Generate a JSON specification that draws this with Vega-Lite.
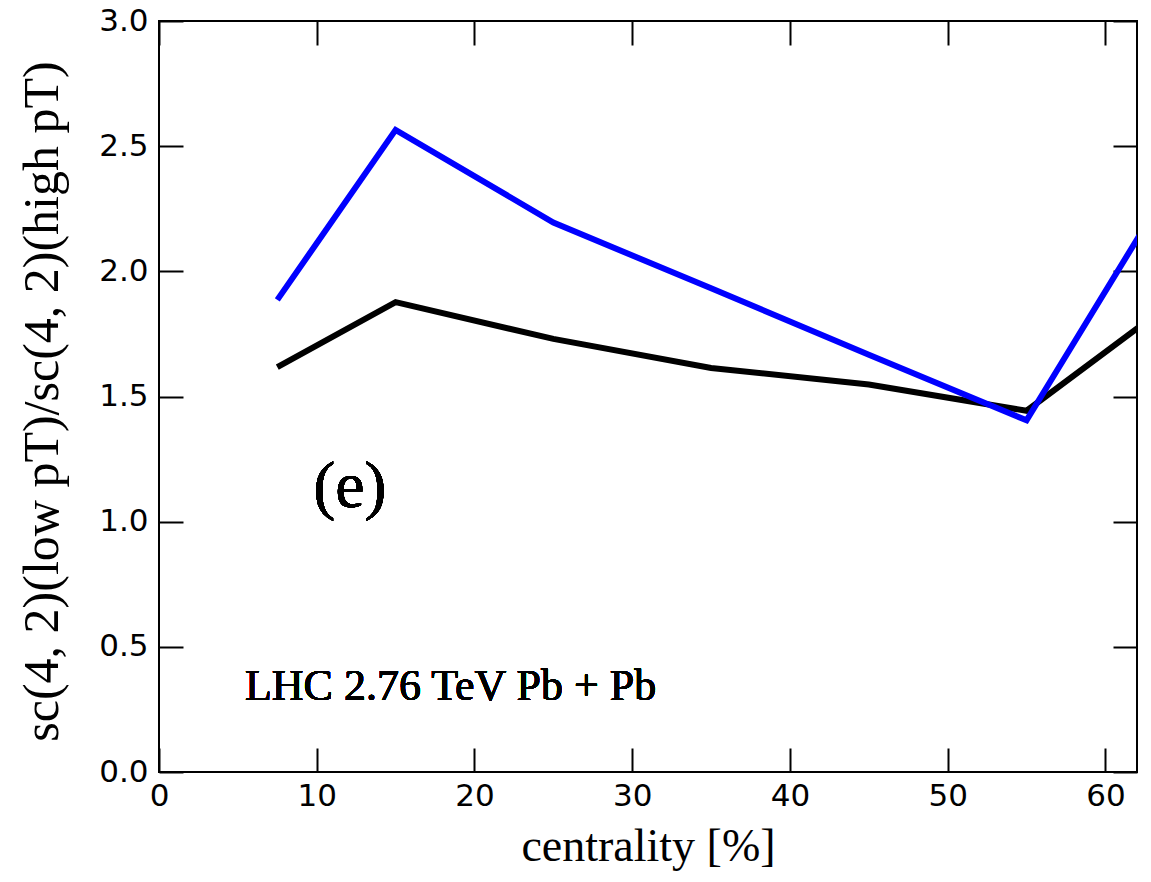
{
  "$schema": "https://vega.github.io/schema/vega-lite/v6.json",
  "width": 978,
  "height": 751,
  "autosize": {"type": "none"},
  "padding": {"left": 159, "top": 21, "right": 14, "bottom": 110},
  "background": "white",
  "config": {
    "view": {"stroke": "black", "strokeWidth": 2},
    "axis": {
      "grid": false,
      "domain": false,
      "tickColor": "black",
      "tickWidth": 2,
      "labelFont": "DejaVu Sans",
      "labelFontSize": 31,
      "labelColor": "black",
      "titleFont": "Liberation Serif",
      "titleFontSize": 46,
      "titleFontWeight": "normal",
      "titleColor": "black"
    }
  },
  "data": {
    "values": [
      {"centrality": 7.5, "ratio": 1.617, "series": "black"},
      {"centrality": 15, "ratio": 1.877, "series": "black"},
      {"centrality": 25, "ratio": 1.73, "series": "black"},
      {"centrality": 35, "ratio": 1.614, "series": "black"},
      {"centrality": 45, "ratio": 1.548, "series": "black"},
      {"centrality": 55, "ratio": 1.443, "series": "black"},
      {"centrality": 65, "ratio": 1.913, "series": "black"},
      {"centrality": 7.5, "ratio": 1.886, "series": "blue"},
      {"centrality": 15, "ratio": 2.565, "series": "blue"},
      {"centrality": 25, "ratio": 2.195, "series": "blue"},
      {"centrality": 35, "ratio": 1.932, "series": "blue"},
      {"centrality": 45, "ratio": 1.667, "series": "blue"},
      {"centrality": 55, "ratio": 1.405, "series": "blue"},
      {"centrality": 65, "ratio": 2.437, "series": "blue"}
    ]
  },
  "resolve": {"axis": {"x": "independent", "y": "independent"}},
  "layer": [
    {
      "mark": {"type": "line", "strokeWidth": 6, "clip": true},
      "encoding": {
        "x": {
          "field": "centrality", "type": "quantitative",
          "scale": {"domain": [0, 62], "nice": false, "zero": false},
          "axis": {
            "orient": "bottom",
            "title": "centrality [%]",
            "values": [0, 10, 20, 30, 40, 50, 60],
            "format": "d",
            "tickSize": -24,
            "labelPadding": 33,
            "labelFlush": false,
            "labelOverlap": false,
            "titleX": 489,
            "titleY": 88,
            "titleAlign": "center",
            "titleBaseline": "alphabetic"
          }
        },
        "y": {
          "field": "ratio", "type": "quantitative",
          "scale": {"domain": [0, 3], "nice": false},
          "axis": {
            "orient": "left",
            "title": "sc(4, 2)(low pT)/sc(4, 2)(high pT)",
            "titleFontSize": 50,
            "values": [0, 0.5, 1, 1.5, 2, 2.5, 3],
            "format": ".1f",
            "tickSize": -24,
            "labelPadding": 35,
            "labelFlush": false,
            "labelOverlap": false,
            "titleAngle": -90,
            "titleX": -117,
            "titleY": 380,
            "titleAlign": "center",
            "titleBaseline": "middle"
          }
        },
        "color": {
          "field": "series", "type": "nominal",
          "scale": {"domain": ["black", "blue"], "range": ["#000000", "#0000ff"]},
          "legend": null
        }
      }
    },
    {
      "mark": {"type": "line", "strokeWidth": 6, "strokeOpacity": 0, "clip": true},
      "encoding": {
        "x": {
          "field": "centrality", "type": "quantitative",
          "axis": {"orient": "top", "title": null, "labels": false, "values": [0, 10, 20, 30, 40, 50, 60], "tickSize": -24}
        },
        "y": {
          "field": "ratio", "type": "quantitative",
          "axis": {"orient": "right", "title": null, "labels": false, "values": [0, 0.5, 1, 1.5, 2, 2.5, 3], "tickSize": -24}
        },
        "detail": {"field": "series", "type": "nominal"}
      }
    },
    {
      "mark": {"type": "text", "text": "(e)", "font": "Liberation Serif", "fontSize": 66, "align": "center", "baseline": "middle", "color": "black"},
      "encoding": {
        "x": {"datum": 12.1, "type": "quantitative", "axis": null},
        "y": {"datum": 1.14, "type": "quantitative", "axis": null}
      }
    },
    {
      "mark": {"type": "text", "text": "LHC 2.76 TeV Pb + Pb", "font": "Liberation Serif", "fontSize": 44, "align": "left", "baseline": "alphabetic", "color": "black"},
      "encoding": {
        "x": {"datum": 5.45, "type": "quantitative", "axis": null},
        "y": {"datum": 0.288, "type": "quantitative", "axis": null}
      }
    }
  ]
}
